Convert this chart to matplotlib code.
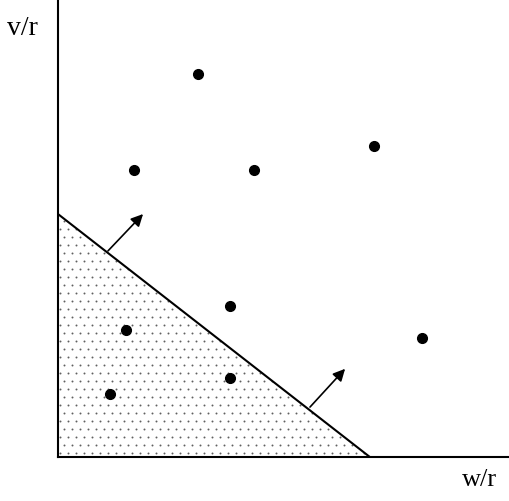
import numpy as np
import matplotlib.pyplot as plt
from matplotlib.patches import Polygon

# observations (w/r, v/r)
w_pts = [3.11, 1.69, 4.36, 7.02, 3.82, 1.51, 8.09, 3.82, 1.16]
v_pts = [8.51, 6.38, 6.38, 6.91, 3.36, 2.82, 2.64, 1.76, 1.40]

# boundary line: intercepts on each axis
w_cut = 6.93
v_cut = 5.40

# arrows pointing away from the shaded region (tail, head)
arrows = [((1.11, 4.58), (1.89, 5.40)),
          ((5.60, 1.11), (6.38, 1.96))]

plt.rcParams['font.family'] = ['Liberation Serif', 'DejaVu Serif']

fig = plt.figure(figsize=(5.10, 5.02), dpi=100)
ax = fig.add_axes([58 / 510, 44 / 502, 450 / 510, 458 / 502])
ax.set_xlim(0, 10)
ax.set_ylim(0, 10.18)

for s in ['top', 'right']:
    ax.spines[s].set_visible(False)
for s in ['left', 'bottom']:
    ax.spines[s].set_linewidth(1.5)
ax.set_xticks([])
ax.set_yticks([])

# dotted triangle under the line
tri = Polygon([(0, 0), (0, v_cut), (w_cut, 0)], closed=True,
              facecolor='none', edgecolor='none')
ax.add_patch(tri)
step = 8 / 45
gx, gy = [], []
for i, y in enumerate(np.arange(step / 2, v_cut, step)):
    off = 0 if i % 2 == 0 else step / 2
    for x in np.arange(step / 4 + off, w_cut, step):
        gx.append(x)
        gy.append(y)
dots = ax.scatter(gx, gy, s=2.0, color='#606060', linewidths=0, zorder=1)
dots.set_clip_path(tri)

ax.plot([0, w_cut], [v_cut, 0], color='black', lw=1.5, zorder=2)

for tail, head in arrows:
    ax.annotate('', xy=head, xytext=tail,
                arrowprops=dict(arrowstyle='-|>', color='black', lw=1.2,
                                mutation_scale=18, shrinkA=0, shrinkB=0))

ax.plot(w_pts, v_pts, 'o', color='black', ms=7, zorder=3)

fig.text(22.5 / 510, 1 - 29 / 502, 'v/r', ha='center', va='center', fontsize=20)
fig.text(480 / 510, 1 - 480 / 502, 'w/r', ha='center', va='center', fontsize=19)

fig.savefig('out.png', dpi=100)
